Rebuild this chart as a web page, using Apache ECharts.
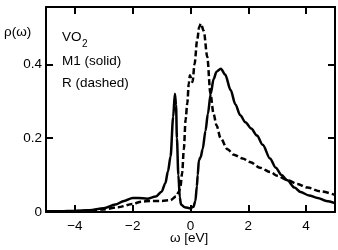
<!DOCTYPE html>
<html>
<head>
<meta charset="utf-8">
<script src="https://cdn.jsdelivr.net/npm/echarts@6/dist/echarts.min.js"></script>
<style>html,body{margin:0;padding:0;background:#fff}#c{width:338px;height:250px}</style>
</head>
<body>
<div id="c"></div>
<script>
// M1 (solid)
const m1Omega = [-5,-4.5,-4,-3.5,-3,-2.6,-2.3,-2.0,-1.8,-1.5,-1.2,-1.0,-0.87,-0.78,-0.69,-0.6,-0.54,-0.5,-0.47,-0.42,-0.37,-0.33,-0.2,0,0.1,0.17,0.22,0.25,0.29,0.35,0.42,0.52,0.6,0.7,0.8,0.9,1.05,1.2,1.39,1.55,1.72,1.9,2.1,2.3,2.5,2.75,2.95,3.15,3.35,3.6,3.81,4.1,4.4,4.7,5];
const m1Rho   = [0.002,0.002,0.003,0.005,0.01,0.02,0.03,0.038,0.038,0.036,0.042,0.055,0.078,0.11,0.15,0.257,0.32,0.29,0.2,0.1,0.04,0.02,0.013,0.01,0.014,0.03,0.07,0.1,0.14,0.148,0.17,0.22,0.265,0.32,0.36,0.38,0.388,0.372,0.33,0.292,0.262,0.243,0.226,0.207,0.182,0.145,0.12,0.1,0.086,0.066,0.054,0.045,0.038,0.03,0.024];
// R (dashed)
const rOmega = [-5,-4,-3.5,-3,-2.5,-2.0,-1.7,-1.4,-1.0,-0.7,-0.5,-0.4,-0.35,-0.29,-0.23,-0.17,-0.11,-0.06,-0.02,0.03,0.07,0.14,0.23,0.3,0.36,0.46,0.58,0.69,0.8,0.9,1.04,1.28,1.5,1.8,2.08,2.4,2.77,3.0,3.36,3.7,4.05,4.5,5];
const rRho   = [0.001,0.002,0.004,0.007,0.013,0.022,0.028,0.03,0.03,0.032,0.042,0.055,0.068,0.105,0.17,0.25,0.295,0.348,0.37,0.36,0.352,0.40,0.465,0.5,0.51,0.49,0.42,0.32,0.265,0.235,0.2,0.17,0.155,0.145,0.135,0.12,0.108,0.098,0.086,0.076,0.066,0.056,0.046];
const xTicks = [-4,-2,0,2,4];
const yTicks = [0,0.2,0.4];

const FONT = 'Liberation Sans, Arial, Helvetica, sans-serif';
const FS = 13.5;
const pairs = (xs, ys) => xs.map((x,i)=>[x, ys[i]]);
const chart = echarts.init(document.getElementById('c'), null, {renderer:'canvas'});
const axLine = {show:true, onZero:false, lineStyle:{color:'#000', width:2}};
const fmtX = v => (v < 0 ? '\u2212' + Math.abs(v) : String(v));
chart.setOption({
  animation:false,
  backgroundColor:'#fff',
  grid:{left:46, right:3, top:7, bottom:38},
  xAxis:[
    {type:'value', min:-5, max:5, position:'bottom', axisLine:axLine,
     axisTick:{show:true, inside:true, length:7, customValues:xTicks, lineStyle:{color:'#000', width:2}},
     axisLabel:{show:true, customValues:xTicks, margin:7, color:'#000', fontSize:FS, fontFamily:FONT, formatter:fmtX},
     splitLine:{show:false}},
    {type:'value', min:-5, max:5, position:'top', axisLine:axLine,
     axisTick:{show:true, inside:true, length:7, customValues:xTicks, lineStyle:{color:'#000', width:2}},
     axisLabel:{show:false}, splitLine:{show:false}}
  ],
  yAxis:[
    {type:'value', min:0, max:0.555, position:'left', axisLine:axLine,
     axisTick:{show:true, inside:true, length:7, customValues:yTicks, lineStyle:{color:'#000', width:2}},
     axisLabel:{show:true, customValues:yTicks, margin:4, color:'#000', fontSize:FS, fontFamily:FONT, formatter:v=>String(v)},
     splitLine:{show:false}},
    {type:'value', min:0, max:0.555, position:'right', axisLine:axLine,
     axisTick:{show:true, inside:true, length:7, customValues:yTicks, lineStyle:{color:'#000', width:2}},
     axisLabel:{show:false}, splitLine:{show:false}}
  ],
  graphic:[
    {type:'text', left:4, top:25, style:{text:'\u03c1(\u03c9)', fontSize:FS, fontFamily:FONT, fill:'#000'}},
    {type:'text', left:62, top:30, style:{text:'VO', fontSize:FS, fontFamily:FONT, fill:'#000'}},
    {type:'text', left:82, top:39, style:{text:'2', fontSize:10, fontFamily:FONT, fill:'#000'}},
    {type:'text', left:62, top:54, style:{text:'M1 (solid)', fontSize:FS, fontFamily:FONT, fill:'#000'}},
    {type:'text', left:62, top:76, style:{text:'R (dashed)', fontSize:FS, fontFamily:FONT, fill:'#000'}},
    {type:'text', left:170, top:231, style:{text:'\u03c9 [eV]', fontSize:FS, fontFamily:FONT, fill:'#000'}}
  ],
  series:[
    {type:'line', name:'M1', data:pairs(m1Omega, m1Rho), showSymbol:false, smooth:0.3, smoothMonotone:'x',
     lineStyle:{color:'#000', width:2.5}, clip:true, z:3},
    {type:'line', name:'R', data:pairs(rOmega, rRho), showSymbol:false, smooth:0.3, smoothMonotone:'x',
     lineStyle:{color:'#000', width:2.5, type:[6,3]}, clip:true, z:3}
  ]
});
</script>
</body>
</html>
